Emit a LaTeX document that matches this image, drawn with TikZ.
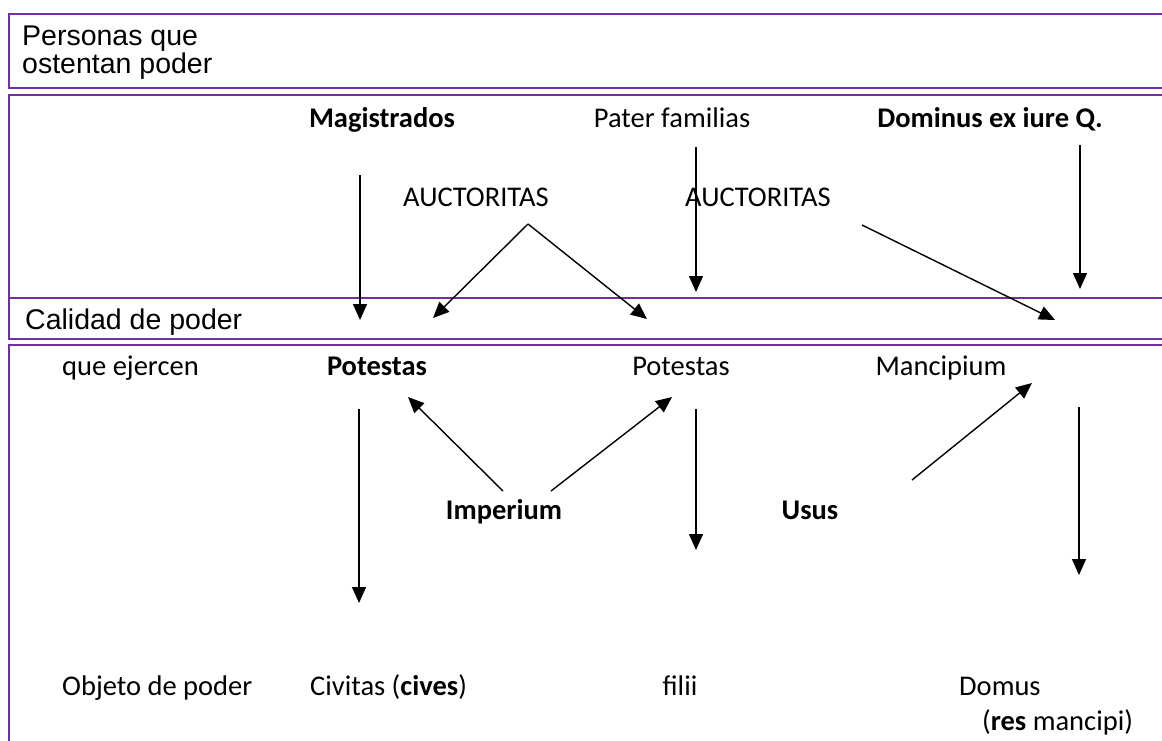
\documentclass[tikz,border=0pt]{standalone}
\usepackage{fontspec}
\setmainfont{Carlito}
\newfontfamily\arialf{Liberation Sans}
\usetikzlibrary{arrows.meta}
\definecolor{wordpurple}{HTML}{7030A0}
\tikzset{
  band/.style={draw=wordpurple, line width=2pt},
  lbl/.style={inner sep=0pt, font=\fontsize{28.5}{34}\selectfont},
  albl/.style={inner sep=0pt, font=\arialf\fontsize{28.5}{29}\selectfont, anchor=base west},
  arr/.style={-{Triangle[length=16pt,width=14pt]}, line width=1.4pt, black},
}
\begin{document}
\begin{tikzpicture}[x=1pt,y=-1pt]
\useasboundingbox (0,0) rectangle (1162,740);
\clip (0,0) rectangle (1162,740);
% bands
\draw[band] (9,14) rectangle (1180,88);
\draw[band] (9,95) rectangle (1180,298);
\draw[band] (9,298) rectangle (1180,339);
\draw[band] (9,345) rectangle (1180,780);
% texts
\node[albl] (pers1) at (22,45) {Personas que};
\node[albl] (pers2) at (22,73) {ostentan poder};
\node[albl] (cal) at (25,329) {Calidad de poder};
\node[lbl,anchor=base] (mag) at (382,127) {\bfseries Magistrados};
\node[lbl,anchor=base] (pater) at (672,127) {Pater familias};
\node[lbl,anchor=base] (dom) at (990,127) {\bfseries Dominus ex iure Q.};
\node[lbl,anchor=base west] (auc1) at (403,206) {AUCTORITAS};
\node[lbl,anchor=base west] (auc2) at (685,206) {AUCTORITAS};
\node[lbl,anchor=base west] (que) at (62,375) {que ejercen};
\node[lbl,anchor=base] (pot1) at (377,375) {\bfseries Potestas};
\node[lbl,anchor=base] (pot2) at (681,375) {Potestas};
\node[lbl,anchor=base] (manc) at (941,375) {Mancipium};
\node[lbl,anchor=base] (imp) at (504,519) {\bfseries Imperium};
\node[lbl,anchor=base] (usus) at (810,519) {\bfseries Usus};
\node[lbl,anchor=base west] (obj) at (62,695) {Objeto de poder};
\node[lbl,anchor=base west] (civ) at (310,695) {Civitas (\textbf{cives})};
\node[lbl,anchor=base] (fil) at (680,695) {filii};
\node[lbl,anchor=base west] (domus) at (959,695) {Domus};
\node[lbl,anchor=base west] (res) at (982,730) {(\textbf{res} mancipi)};
% arrow end points
\coordinate (magA) at (360,175);  \coordinate (magB) at (360,320);
\coordinate (patA) at (696,147);  \coordinate (patB) at (696,292);
\coordinate (domA) at (1080,145); \coordinate (domB) at (1080,289);
\coordinate (auA) at (528,224);   \coordinate (auL) at (433,318); \coordinate (auR) at (647,319);
\coordinate (au2A) at (862,225);  \coordinate (au2B) at (1055,320);
\coordinate (p1A) at (359,409);   \coordinate (p1B) at (359,603);
\coordinate (imL) at (503,491);   \coordinate (imLt) at (408,397);
\coordinate (imR) at (551,491);   \coordinate (imRt) at (672,397);
\coordinate (p2A) at (696,409);   \coordinate (p2B) at (696,550);
\coordinate (usA) at (912,480);   \coordinate (usB) at (1032,383);
\coordinate (mA) at (1079,407);   \coordinate (mB) at (1079,575);
% arrows
\draw[arr] (magA) -- (magB);
\draw[arr] (patA) -- (patB);
\draw[arr] (domA) -- (domB);
\draw[arr] (auA) -- (auL);
\draw[arr] (auA) -- (auR);
\draw[arr] (au2A) -- (au2B);
\draw[arr] (p1A) -- (p1B);
\draw[arr] (imL) -- (imLt);
\draw[arr] (imR) -- (imRt);
\draw[arr] (p2A) -- (p2B);
\draw[arr] (usA) -- (usB);
\draw[arr] (mA) -- (mB);
\end{tikzpicture}
\end{document}
